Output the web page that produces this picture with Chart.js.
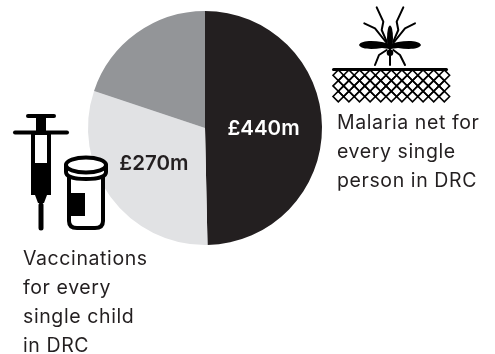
<!DOCTYPE html>
<html>
<head>
<meta charset="utf-8">
<script src="https://cdn.jsdelivr.net/npm/chart.js@4/dist/chart.umd.min.js"></script>
<style>
html, body { margin: 0; padding: 0; background: #fff; }
#wrap { position: relative; width: 495px; height: 354px; overflow: hidden; font-family: "Inter", sans-serif; color: #231f20; }
#myChart { position: absolute; left: 0; top: 0; }
#icons { position: absolute; left: 0; top: 0; }
.note { position: absolute; font-size: 19.5px; letter-spacing: 0.6px; line-height: 29.3px; white-space: pre; }
</style>
</head>
<body>
<div id="wrap">
  <canvas id="myChart" width="495" height="354"></canvas>
  <svg id="icons" width="495" height="354" viewBox="0 0 495 354">
    <!-- mosquito -->
    <g fill="none" stroke="#000" stroke-width="2" stroke-linecap="round" stroke-linejoin="round">
      <path d="M376.7 7.3 L383.3 21.7 L381.7 30 L386.7 41.7"></path>
      <path d="M403.3 7.3 L396.7 21.7 L398.3 30 L393.3 41.7"></path>
      <path d="M364.3 23.3 L375 28.3 L386.7 43"></path>
      <path d="M415 23.3 L405 28.3 L393.3 43"></path>
      <path d="M375 65 L379 55 L386.7 50"></path>
      <path d="M405 65 L400 55 L393.3 50"></path>
      <path d="M390 54 V65"></path>
    </g>
    <g fill="#000">
      <path d="M359 45 C361 40.5 372 40.5 382 42 L390 44 L398 42 C408 40.5 419 40.5 421 45 C419 49.5 408 49.5 398 48 L390 49 L382 48 C372 49.5 361 49.5 359 45 Z"></path>
      <ellipse cx="390" cy="38" rx="3" ry="12.5"></ellipse>
      <circle cx="390" cy="52.7" r="3.3"></circle>
    </g>
    <!-- net under the mosquito -->
    <path d="M333.5 69.5 H446.5" stroke="#000" stroke-width="3" stroke-linecap="round"></path>
    <g id="net" fill="none" stroke="#000" stroke-width="1.6"></g>
    <!-- syringe -->
    <g stroke="#000" stroke-linecap="round" fill="none">
      <path d="M28 116 H54" stroke-width="4"></path>
      <path d="M15 132.5 H67" stroke-width="4"></path>
      <path d="M41 205 V228" stroke-width="5"></path>
    </g>
    <g fill="#000">
      <path d="M36 117 H46 V132 H36 Z"></path>
      <path d="M31 132 H51 V195 H47 L44 203 H38 L35 195 H31 Z"></path>
    </g>
    <rect x="35" y="135" width="12" height="28" fill="#fff"></rect>
    <!-- jar -->
    <g stroke="#000" stroke-width="4" fill="#fff" stroke-linejoin="round">
      <path d="M69 175 V221 C69 226 72 228 77 228 H95 C100 228 103 226 103 221 V175 Z"></path>
      <path d="M66 165 V172 C66 177 75 179 86 179 C97 179 106 177 106 172 V165 Z"></path>
      <ellipse cx="86" cy="165" rx="20" ry="7.5"></ellipse>
    </g>
    <path d="M70 193 H85 V216 H70 Z" fill="#000"></path>
  </svg>
  <div class="note" id="noteNet" style="left:337px;top:107.5px"></div>
  <div class="note" id="noteVac" style="left:23px;top:243.5px"></div>
</div>
<script>
var categories = ['Malaria nets', 'Vaccinations', 'Other'];
var spend = [440, 270, 176];
var sliceColours = ['#231f20', '#e1e2e4', '#939598'];
var sliceLabels = ['£440m', '£270m', ''];
var labelColours = ['#ffffff', '#231f20', '#231f20'];
var netNote = ['Malaria net for', 'every single', 'person in DRC'];
var vaccineNote = ['Vaccinations', 'for every', 'single child', 'in DRC'];

document.getElementById('noteNet').textContent = netNote.join('\n');
document.getElementById('noteVac').textContent = vaccineNote.join('\n');

// net mesh, rows of diamonds with every second row shifted half a cell
var net = document.getElementById('net');
var cell = 10.6;
for (var row = 0; row < 5; row++) {
    var count = row % 2 ? 10 : 11;
    var rowLeft = 333 + (row % 2 ? cell / 2 : 0);
    var cy = 75.3 + row * cell / 2;
    for (var i = 0; i < count; i++) {
        var cx = rowLeft + cell / 2 + i * cell;
        var d = document.createElementNS('http://www.w3.org/2000/svg', 'path');
        d.setAttribute('d', 'M' + (cx - cell / 2) + ' ' + cy + ' L' + cx + ' ' + (cy - cell / 2) +
            ' L' + (cx + cell / 2) + ' ' + cy + ' L' + cx + ' ' + (cy + cell / 2) + ' Z');
        net.appendChild(d);
    }
}

// writes the amount in the middle of each slice
var sliceText = {
    id: 'sliceText',
    afterDatasetsDraw: function (chart) {
        var ctx = chart.ctx;
        ctx.save();
        ctx.font = '600 20.5px Inter, sans-serif';
        ctx.textAlign = 'center';
        ctx.textBaseline = 'middle';
        chart.getDatasetMeta(0).data.forEach(function (arc, i) {
            var pos = arc.tooltipPosition();
            ctx.fillStyle = labelColours[i];
            // the lighter slice has its label pulled a little to the left
            ctx.fillText(sliceLabels[i], pos.x - (i === 1 ? 4 : 0), pos.y + 1);
        });
        ctx.restore();
    }
};

var ctx = document.getElementById('myChart').getContext('2d');
var myChart = new Chart(ctx, {
    type: 'pie',
    data: {
        labels: categories,
        datasets: [{
            data: spend,
            backgroundColor: sliceColours,
            borderWidth: 0
        }]
    },
    options: {
        responsive: false,
        animation: false,
        layout: {
            padding: { left: 88, right: 173, top: 11, bottom: 109 }
        },
        plugins: {
            legend: { display: false },
            tooltip: { enabled: false }
        }
    },
    plugins: [sliceText]
});
</script>
</body>
</html>
